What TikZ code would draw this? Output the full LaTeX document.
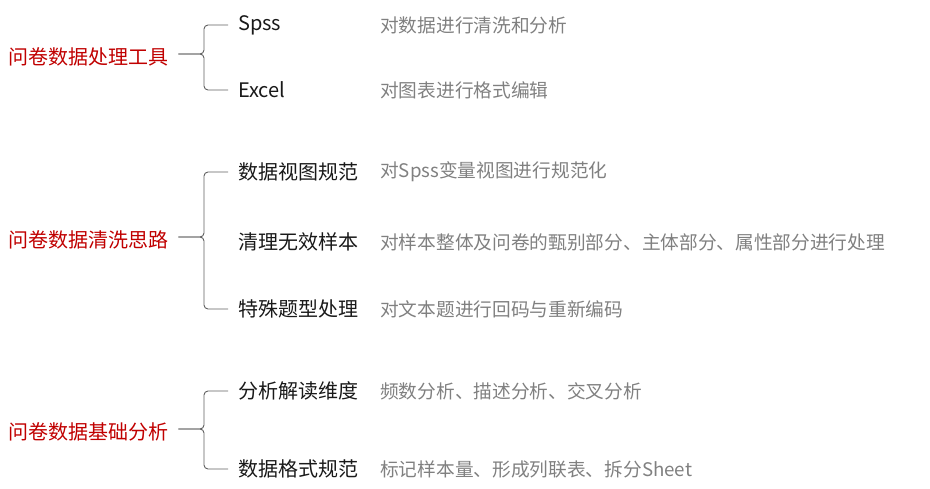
\documentclass[tikz,border=0pt]{standalone}
\usepackage{fontspec}
\setmainfont{Noto Sans CJK SC}
\usepackage{xcolor}
\usepackage{tikz}

\definecolor{titlered}{HTML}{C00000}
\definecolor{notegray}{HTML}{808080}
\definecolor{linegray}{HTML}{606060}

\begin{document}
\begin{tikzpicture}[x=1pt, y=-1pt,
    title/.style={anchor=west, inner sep=0pt, yshift=-2pt, text=titlered, font=\fontsize{20}{24}\selectfont},
    item/.style={anchor=west, inner sep=0pt, yshift=-2pt, text=black!90, font=\fontsize{20}{24}\selectfont},
    note/.style={anchor=west, inner sep=0pt, yshift=-2pt, text=notegray, font=\fontsize{18.7}{22}\selectfont},
    brace/.style={draw=linegray, line width=0.9pt, rounded corners=4pt}]
    \useasboundingbox (0,0) rectangle (930,489);

    % Tools
    \node[title] (tool) at (8,55) {问卷数据处理工具};
    \coordinate (tool-m) at (204,54);
    \foreach \name/\y/\txt/\note in {spss/23/Spss/对数据进行清洗和分析, excel/88/Excel/对图表进行格式编辑} {
        \node[item] (\name) at (238,\y) {\txt};
        \node[note] (\name-note) at (380,\y) {\note};
    }
    \draw[brace] ([xshift=-10pt]spss.west) -| (tool-m) -- ([xshift=10pt]tool-m -| tool.east);
    \draw[brace] ([xshift=-10pt]excel.west) -| (tool-m) -- ([xshift=10pt]tool-m -| tool.east);

    % Cleaning
    \node[title] (clean) at (8,238) {问卷数据清洗思路};
    \coordinate (clean-m) at (204,237);
    \foreach \name/\y/\txt/\note in {view/170/数据视图规范/对Spss变量视图进行规范化,
        invalid/240/清理无效样本/对样本整体及问卷的甄别部分、主体部分、属性部分进行处理,
        special/307/特殊题型处理/对文本题进行回码与重新编码} {
        \node[item] (\name) at (238,\y) {\txt};
        \node[note] (\name-note) at (380,\y) {\note};
    }
    \draw[brace] ([xshift=-10pt]view.west) -| (clean-m) -- ([xshift=10pt]clean-m -| clean.east);
    \draw[brace] ([xshift=-10pt]special.west) -| (clean-m) -- ([xshift=10pt]clean-m -| clean.east);

    % Basic analysis
    \node[title] (base) at (8,430) {问卷数据基础分析};
    \coordinate (base-m) at (204,429);
    \foreach \name/\y/\txt/\note in {read/389/分析解读维度/频数分析、描述分析、交叉分析,
        format/467/数据格式规范/标记样本量、形成列联表、拆分Sheet} {
        \node[item] (\name) at (238,\y) {\txt};
        \node[note] (\name-note) at (380,\y) {\note};
    }
    \draw[brace] ([xshift=-10pt]read.west) -| (base-m) -- ([xshift=10pt]base-m -| base.east);
    \draw[brace] ([xshift=-10pt]format.west) -| (base-m) -- ([xshift=10pt]base-m -| base.east);
\end{tikzpicture}
\end{document}
